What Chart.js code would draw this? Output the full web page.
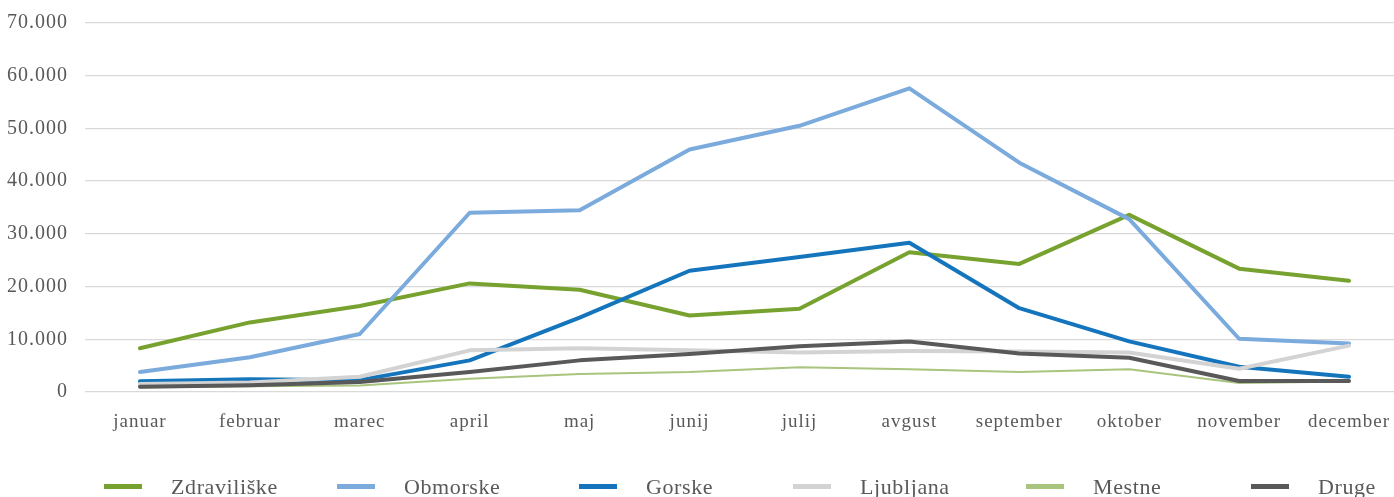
<!DOCTYPE html>
<html>
<head>
<meta charset="utf-8">
<script src="https://cdn.jsdelivr.net/npm/chart.js@4/dist/chart.umd.min.js"></script>
<style>
  html, body { margin: 0; padding: 0; background: #fff; overflow: hidden; }
  #wrap { position: relative; width: 1404px; height: 497px; }
  #legend {
    position: absolute; left: 104px; top: 474px;
    display: grid; grid-template-columns: 233px 242px 214px 233px 225px auto;
    font-family: 'Liberation Serif', serif; font-size: 22px; color: #595959;
    letter-spacing: 0.6px; line-height: 25px;
  }
  .item { display: flex; align-items: center; white-space: nowrap; }
  .swatch { width: 38px; height: 5px; margin-right: 29px; }
</style>
</head>
<body>
<div id="wrap">
  <canvas id="visits"></canvas>
  <div id="legend"></div>
</div>
<script>
const months = ['januar', 'februar', 'marec', 'april', 'maj', 'junij', 'julij', 'avgust', 'september', 'oktober', 'november', 'december'];

const zdraviliske = [8300, 13200, 16300, 20600, 19400, 14500, 15800, 26500, 24300, 33600, 23400, 21100];
const obmorske    = [3800, 6600, 11000, 34000, 34500, 46000, 50500, 57600, 43500, 32800, 10100, 9200];
const gorske      = [2050, 2400, 2250, 6000, 14100, 23000, 25600, 28300, 15900, 9600, 4800, 2900];
const ljubljana   = [1500, 1800, 2900, 7900, 8300, 7900, 7500, 7800, 7700, 7500, 4400, 8800];
const mestne      = [850, 1100, 1250, 2500, 3400, 3800, 4700, 4300, 3800, 4300, 1700, 2000];
const druge       = [1000, 1300, 1900, 3800, 6000, 7200, 8700, 9600, 7300, 6500, 2100, 2100];

const seriesNames  = ['Zdraviliške', 'Obmorske', 'Gorske', 'Ljubljana', 'Mestne', 'Druge'];
const seriesValues = [zdraviliske, obmorske, gorske, ljubljana, mestne, druge];
const seriesColors = ['#78a22f', '#7baadd', '#1475bd', '#d3d3d3', '#a8c47e', '#595959'];
const seriesWidths = [4, 4, 4, 4, 2, 4];

const thousands = v => String(v).replace(/\B(?=(\d{3})+(?!\d))/g, '.');

// canvas text gets a little tracking, like the labels in the original workbook
const tracking = {
  id: 'tracking',
  beforeLayout(chart) { chart.ctx.letterSpacing = '1px'; },
  beforeDraw(chart) { chart.ctx.letterSpacing = '1px'; }
};

new Chart(document.getElementById('visits'), {
  type: 'line',
  data: {
    labels: months,
    datasets: seriesNames.map((name, i) => ({
      label: name,
      data: seriesValues[i],
      borderColor: seriesColors[i],
      backgroundColor: seriesColors[i],
      borderWidth: seriesWidths[i],
      pointRadius: 0,
      tension: 0,
      borderJoinStyle: 'round',
      borderCapStyle: 'round',
      order: seriesNames.length - i
    }))
  },
  options: {
    responsive: true,
    maintainAspectRatio: false,
    animation: false,
    layout: { padding: { left: 0, right: 0, top: 23, bottom: 45 } },
    plugins: {
      legend: { display: false },
      tooltip: { enabled: false }
    },
    scales: {
      x: {
        offset: true,
        grid: { display: false },
        border: { display: false },
        ticks: {
          padding: 11,
          color: '#595959',
          font: { family: 'Liberation Serif', size: 19 },
          maxRotation: 0
        },
        afterFit(scale) { scale.height = 60; }
      },
      y: {
        min: 0,
        max: 70000,
        grid: { color: '#d9d9d9', lineWidth: 1.3, drawTicks: false },
        border: { display: false },
        ticks: {
          stepSize: 10000,
          padding: 17,
          color: '#595959',
          font: { family: 'Liberation Serif', size: 20 },
          callback: v => thousands(v)
        },
        afterFit(scale) {
          scale.width = 85;
          scale.paddingTop = 0;
          scale.paddingBottom = 0;
        }
      }
    }
  },
  plugins: [tracking]
});

// legend row under the plot
const legend = document.getElementById('legend');
seriesNames.forEach((name, i) => {
  const item = document.createElement('div');
  item.className = 'item';
  const swatch = document.createElement('span');
  swatch.className = 'swatch';
  swatch.style.background = seriesColors[i];
  const text = document.createElement('span');
  text.textContent = name;
  item.append(swatch, text);
  legend.appendChild(item);
});
</script>
</body>
</html>
